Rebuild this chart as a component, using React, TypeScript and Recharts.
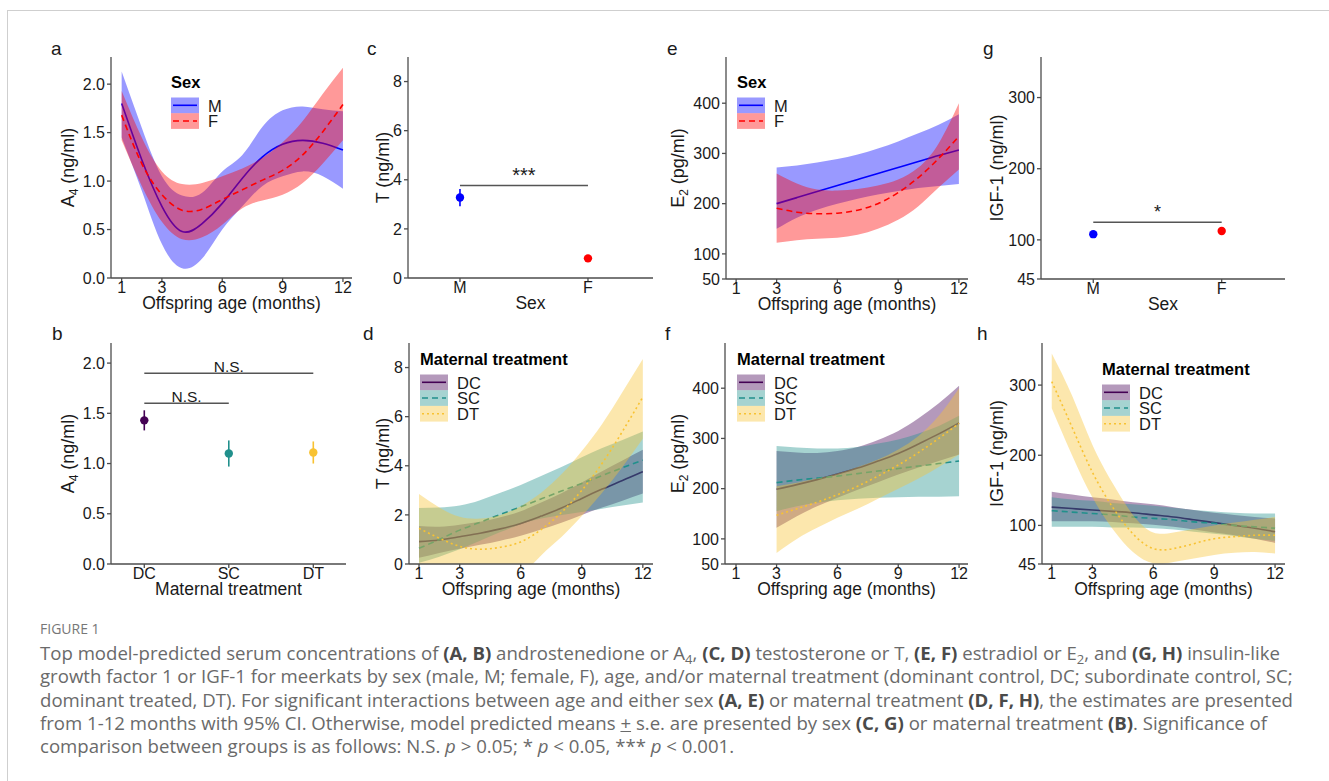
import React from "react";
import {
  ComposedChart,
  Area,
  Line,
  Scatter,
  ErrorBar,
  XAxis,
  YAxis,
  ReferenceLine,
  Legend,
} from "recharts";

const FONT = "Arial, 'Liberation Sans', Helvetica, sans-serif";
const INK = "#1a1a1a";
const AXIS = "#4d4d4d";

const BLUE = "#0000FF";
const RED = "#FF0000";
const DC_COL = "#440154";
const SC_COL = "#21908C";
const DT_COL = "#F8C232";

// x values
const AGE = [1, 2, 3, 4, 5, 6, 7, 8, 9, 10, 11, 12];
const AGE_LATE = [3, 4, 5, 6, 7, 8, 9, 10, 11, 12];
const AGE_TICKS = [1, 3, 6, 9, 12];
const SEX = ["M", "F"];
const TREAT = ["DC", "SC", "DT"];

// a: A4 by sex and age
const A4_M_MEAN = [1.8, 1.22, 0.74, 0.48, 0.56, 0.77, 1.03, 1.25, 1.38, 1.42, 1.39, 1.32];
const A4_M_LO = [1.45, 0.9, 0.35, 0.1, 0.2, 0.5, 0.74, 0.95, 1.05, 1.1, 1.05, 0.92];
const A4_M_HI = [2.13, 1.55, 1.05, 0.85, 0.88, 1.1, 1.27, 1.56, 1.73, 1.77, 1.74, 1.72];
const A4_F_MEAN = [1.68, 1.18, 0.86, 0.7, 0.71, 0.81, 0.91, 1.01, 1.11, 1.27, 1.51, 1.79];
const A4_F_LO = [1.42, 0.95, 0.58, 0.4, 0.42, 0.55, 0.72, 0.8, 0.86, 0.98, 1.18, 1.42];
const A4_F_HI = [1.93, 1.45, 1.1, 0.97, 0.98, 1.05, 1.13, 1.24, 1.4, 1.62, 1.9, 2.17];

// b: A4 by maternal treatment
const A4_TREAT_MEAN = [1.43, 1.1, 1.11];
const A4_TREAT_LO = [1.33, 0.97, 1.0];
const A4_TREAT_HI = [1.53, 1.23, 1.22];

// c: T by sex
const T_SEX_MEAN = [3.28, 0.8];
const T_SEX_LO = [2.92, 0.75];
const T_SEX_HI = [3.62, 0.85];

// d: T by maternal treatment and age
const T_DC_MEAN = [0.91, 0.98, 1.11, 1.25, 1.43, 1.65, 1.95, 2.28, 2.67, 3.05, 3.4, 3.76];
const T_DC_LO = [0.25, 0.45, 0.62, 0.78, 0.95, 1.15, 1.4, 1.68, 2.0, 2.3, 2.58, 2.87];
const T_DC_HI = [1.55, 1.52, 1.6, 1.72, 1.9, 2.15, 2.5, 2.88, 3.32, 3.78, 4.22, 4.65];
const T_SC_MEAN = [0.64, 1.0, 1.38, 1.7, 2.02, 2.33, 2.65, 2.97, 3.28, 3.6, 3.92, 4.23];
const T_SC_LO = [0.05, 0.3, 0.6, 0.95, 1.3, 1.62, 1.85, 2.0, 2.12, 2.25, 2.38, 2.5];
const T_SC_HI = [2.28, 2.3, 2.38, 2.6, 2.9, 3.22, 3.58, 3.95, 4.35, 4.72, 5.05, 5.4];
const T_DT_MEAN = [1.45, 1.05, 0.72, 0.6, 0.68, 0.9, 1.4, 2.1, 3.0, 4.1, 5.4, 6.8];
const T_DT_LO = [-0.3, -0.9, -1.3, -1.4, -1.1, -0.5, 0.35, 1.1, 1.95, 2.9, 3.95, 5.1];
const T_DT_HI = [2.85, 2.3, 1.92, 1.85, 2.0, 2.35, 2.9, 3.65, 4.6, 5.7, 7.0, 8.35];

// e: E2 by sex and age
const E2_M_MEAN = [200, 212, 224, 236, 248, 260, 272, 284, 296, 307];
const E2_M_LO = [150, 172, 188, 200, 210, 218, 225, 231, 235, 239];
const E2_M_HI = [272, 276, 282, 289, 298, 310, 324, 340, 357, 378];
const E2_F_MEAN = [191, 183, 180, 181, 187, 200, 222, 252, 290, 334];
const E2_F_LO = [122, 127, 130, 132, 138, 150, 168, 195, 232, 268];
const E2_F_HI = [260, 240, 228, 226, 229, 236, 248, 272, 320, 400];

// f: E2 by maternal treatment and age
const E2_DC_MEAN = [199, 208, 218, 229, 241, 255, 270, 289, 309, 331];
const E2_DC_LO = [122, 145, 165, 182, 198, 213, 228, 242, 255, 268];
const E2_DC_HI = [275, 272, 271, 275, 283, 297, 315, 340, 370, 405];
const E2_SC_MEAN = [212, 217, 221, 225, 230, 235, 240, 245, 250, 255];
const E2_SC_LO = [155, 165, 172, 177, 180, 182, 183, 184, 184, 185];
const E2_SC_HI = [285, 282, 280, 280, 283, 290, 298, 310, 325, 345];
const E2_DT_MEAN = [147, 160, 173, 188, 205, 225, 247, 272, 300, 330];
const E2_DT_LO = [72, 100, 122, 142, 160, 180, 200, 220, 243, 268];
const E2_DT_HI = [205, 212, 220, 230, 243, 258, 278, 305, 345, 400];

// g: IGF-1 by sex
const IGF_SEX_MEAN = [108, 112.5];
const IGF_SEX_LO = [105, 110];
const IGF_SEX_HI = [111, 115];

// h: IGF-1 by maternal treatment and age
const IGF_DC_MEAN = [126, 124, 122, 120, 118, 115, 112, 108, 104, 100, 96, 91];
const IGF_DC_LO = [106, 106, 106, 105, 103, 101, 98, 94, 90, 86, 81, 75];
const IGF_DC_HI = [148, 144, 140, 137, 133, 130, 126, 122, 118, 115, 112, 110];
const IGF_SC_MEAN = [121, 119, 117, 115, 112, 110, 108, 105, 103, 100, 98, 96];
const IGF_SC_LO = [98, 98, 98, 97, 97, 96, 94, 91, 88, 85, 81, 78];
const IGF_SC_HI = [140, 137, 135, 132, 130, 128, 125, 122, 120, 118, 117, 117];
const IGF_DT_MEAN = [305, 240, 176, 126, 88, 67, 67, 74, 81, 84, 86, 86];
const IGF_DT_LO = [267, 200, 140, 95, 62, 46, 48, 53, 58, 61, 62, 60];
const IGF_DT_HI = [345, 285, 215, 160, 115, 90, 90, 95, 100, 104, 108, 112];

type Series = {
  key: string;
  color: string;
  dash?: string;
  mean: number[];
  lo: number[];
  hi: number[];
};

const sexSeries = (mean: number[][], lo: number[][], hi: number[][]): Series[] => [
  { key: "M", color: BLUE, mean: mean[0], lo: lo[0], hi: hi[0] },
  { key: "F", color: RED, dash: "6 4", mean: mean[1], lo: lo[1], hi: hi[1] },
];
const treatSeries = (mean: number[][], lo: number[][], hi: number[][]): Series[] => [
  { key: "DC", color: DC_COL, mean: mean[0], lo: lo[0], hi: hi[0] },
  { key: "SC", color: SC_COL, dash: "6 4", mean: mean[1], lo: lo[1], hi: hi[1] },
  { key: "DT", color: DT_COL, dash: "2 3", mean: mean[2], lo: lo[2], hi: hi[2] },
];

const SERIES_A = sexSeries([A4_M_MEAN, A4_F_MEAN], [A4_M_LO, A4_F_LO], [A4_M_HI, A4_F_HI]);
const SERIES_E = sexSeries([E2_M_MEAN, E2_F_MEAN], [E2_M_LO, E2_F_LO], [E2_M_HI, E2_F_HI]);
const SERIES_D = treatSeries(
  [T_DC_MEAN, T_SC_MEAN, T_DT_MEAN],
  [T_DC_LO, T_SC_LO, T_DT_LO],
  [T_DC_HI, T_SC_HI, T_DT_HI]
);
const SERIES_F = treatSeries(
  [E2_DC_MEAN, E2_SC_MEAN, E2_DT_MEAN],
  [E2_DC_LO, E2_SC_LO, E2_DT_LO],
  [E2_DC_HI, E2_SC_HI, E2_DT_HI]
);
const SERIES_H = treatSeries(
  [IGF_DC_MEAN, IGF_SC_MEAN, IGF_DT_MEAN],
  [IGF_DC_LO, IGF_SC_LO, IGF_DT_LO],
  [IGF_DC_HI, IGF_SC_HI, IGF_DT_HI]
);

const makeRows = (ages: number[], series: Series[]) =>
  ages.map((age, i) => {
    const row: Record<string, number | number[]> = { age };
    series.forEach((s) => {
      row[s.key] = s.mean[i];
      row[s.key + "Band"] = [s.lo[i], s.hi[i]];
    });
    return row;
  });

const makePoints = (names: string[], colors: string[], mean: number[], lo: number[], hi: number[]) =>
  names.map((name, i) => ({
    name,
    color: colors[i],
    x: i + 1,
    y: mean[i],
    err: [mean[i] - lo[i], hi[i] - mean[i]],
  }));

// layout
type Box = { l: number; t: number; r: number; b: number };
const Y_W = 80;
const X_H = 45;
const M_T = 10;
const M_R = 15;

const BOX_A: Box = { l: 111, t: 57, r: 352, b: 278 };
const BOX_C: Box = { l: 408, t: 57, r: 653, b: 278 };
const BOX_E: Box = { l: 726, t: 57, r: 968, b: 279 };
const BOX_G: Box = { l: 1041, t: 57, r: 1285, b: 279 };
const BOX_B: Box = { l: 111, t: 343, r: 346, b: 564 };
const BOX_D: Box = { l: 409, t: 343, r: 653, b: 564 };
const BOX_F: Box = { l: 725, t: 343, r: 968, b: 564 };
const BOX_H: Box = { l: 1042, t: 343, r: 1285, b: 564 };

const tickStyle = { fill: INK, fontSize: 16, fontFamily: FONT };
const axisLineStyle = { stroke: AXIS, strokeWidth: 1.3 };

const XTitle = (props: any) => {
  const { x, y, width } = props.viewBox;
  return (
    <text x={x + width / 2} y={y + 31} textAnchor="middle" fontSize={17.5} fontFamily={FONT} fill={INK}>
      {props.text}
    </text>
  );
};

const YTitle = (props: any) => {
  const { x, y, width, height } = props.viewBox;
  const cx = x + width - props.dx;
  const cy = y + height / 2;
  return (
    <text
      transform={`rotate(-90 ${cx} ${cy})`}
      x={cx}
      y={cy + 6}
      textAnchor="middle"
      fontSize={18}
      fontFamily={FONT}
      fill={INK}
    >
      {props.main}
      {props.sub ? (
        <tspan fontSize={12} dy={4}>
          {props.sub}
        </tspan>
      ) : null}
      <tspan dy={props.sub ? -4 : 0}>{props.unit}</tspan>
    </text>
  );
};

function xAxis(domain: number[], ticks: number[], title: string, fmt?: (v: number) => string, key = "age") {
  return (
    <XAxis
      type="number"
      dataKey={key}
      domain={domain}
      ticks={ticks}
      tickFormatter={fmt}
      allowDataOverflow
      interval={0}
      height={X_H}
      tickSize={4}
      tickMargin={0}
      axisLine={axisLineStyle}
      tickLine={axisLineStyle}
      tick={tickStyle}
      label={<XTitle text={title} />}
    />
  );
}

function yAxis(domain: number[], ticks: number[], title: React.ReactElement, fmt?: (v: number) => string) {
  return (
    <YAxis
      type="number"
      domain={domain}
      ticks={ticks}
      tickFormatter={fmt}
      allowDataOverflow
      interval={0}
      width={Y_W}
      tickSize={4}
      tickMargin={2}
      axisLine={axisLineStyle}
      tickLine={axisLineStyle}
      tick={tickStyle}
      label={title}
    />
  );
}

function bandsAndLines(series: Series[], alpha: number) {
  return series.flatMap((s, i) => [
    <Area
      key={s.key + "-band"}
      dataKey={s.key + "Band"}
      type="natural"
      stroke="none"
      fill={s.color}
      fillOpacity={alpha}
      activeDot={false}
      isAnimationActive={false}
      zIndex={10 + i * 2}
    />,
    <Line
      key={s.key + "-line"}
      dataKey={s.key}
      type="natural"
      stroke={s.color}
      strokeWidth={1.6}
      strokeDasharray={s.dash}
      dot={false}
      activeDot={false}
      isAnimationActive={false}
      zIndex={11 + i * 2}
    />,
  ]);
}

function points(data: ReturnType<typeof makePoints>) {
  return data.map((p) => (
    <Scatter
      key={p.name}
      data={[p]}
      dataKey="y"
      isAnimationActive={false}
      shape={(sp: any) => <circle cx={sp.cx} cy={sp.cy} r={4.2} fill={p.color} />}
    >
      <ErrorBar dataKey="err" direction="y" width={0} stroke={p.color} strokeWidth={1.6} />
    </Scatter>
  ));
}

function sigLine(x1: number, x2: number, y: number, text: string, fontSize = 16, offset = 5) {
  return (
    <ReferenceLine
      key={`${x1}-${x2}-${y}`}
      segment={[
        { x: x1, y },
        { x: x2, y },
      ]}
      stroke="#555"
      strokeWidth={1.5}
      label={{ value: text, position: "top", fill: INK, fontSize, fontFamily: FONT, offset }}
    />
  );
}

type Key = { name: string; color: string; dash?: string };
const SEX_KEYS: Key[] = SERIES_A.map((s) => ({ name: s.key, color: s.color, dash: s.dash }));
const TREAT_KEYS: Key[] = SERIES_D.map((s) => ({ name: s.key, color: s.color, dash: s.dash }));

const LegendBox = ({ title, items, alpha }: { title: string; items: Key[]; alpha: number }) => (
  <svg width={200} height={26 + items.length * 16} style={{ display: "block", overflow: "visible" }}>
    <text x={0} y={14} fontWeight="bold" fontSize={16.5} fontFamily={FONT} fill="#000">
      {title}
    </text>
    {items.map((it, i) => {
      const y = 23.5 + i * 15.7;
      return (
        <g key={it.name}>
          <rect x={0} y={y} width={28} height={15.7} fill={it.color} fillOpacity={alpha} />
          <line x1={2} x2={26} y1={y + 7.8} y2={y + 7.8} stroke={it.color} strokeWidth={1.6} strokeDasharray={it.dash} />
          <text x={37} y={y + 14} fontSize={16.5} fontFamily={FONT} fill={INK}>
            {it.name}
          </text>
        </g>
      );
    })}
  </svg>
);

function legend(box: Box, x: number, baseline: number, title: string, items: Key[], alpha: number) {
  return (
    <Legend
      verticalAlign="middle"
      align="center"
      layout="horizontal"
      wrapperStyle={{
        left: x - (box.l - Y_W),
        top: baseline - 14 - (box.t - M_T),
        width: 200,
        height: 80,
      }}
      content={() => <LegendBox title={title} items={items} alpha={alpha} />}
    />
  );
}

function Panel({ box, rows, children }: { box: Box; rows?: any[]; children: React.ReactNode }) {
  return (
    <div style={{ position: "absolute", left: box.l - Y_W, top: box.t - M_T }}>
      <ComposedChart
        width={box.r - box.l + Y_W + M_R}
        height={box.b - box.t + M_T + X_H}
        data={rows}
        margin={{ top: M_T, right: M_R, bottom: 0, left: 0 }}
      >
        {children}
      </ComposedChart>
    </div>
  );
}

const letterStyle = (left: number, top: number): React.CSSProperties => ({
  position: "absolute",
  left,
  top,
  fontSize: 19,
  lineHeight: "19px",
  fontFamily: FONT,
  color: INK,
});

const one = (v: number) => v.toFixed(1);
const AGE_TITLE = "Offspring age (months)";
const ALPHA = 0.4;

const B = ({ children }: { children: React.ReactNode }) => (
  <span style={{ fontWeight: 700, color: "#4a4a4a" }}>{children}</span>
);
const Sub = ({ children }: { children: React.ReactNode }) => (
  <span style={{ fontSize: "0.7em", position: "relative", top: "0.3em", lineHeight: 1 }}>{children}</span>
);

export default function App() {
  const rowsA = makeRows(AGE, SERIES_A);
  const rowsE = makeRows(AGE_LATE, SERIES_E);
  const rowsD = makeRows(AGE, SERIES_D);
  const rowsF = makeRows(AGE_LATE, SERIES_F);
  const rowsH = makeRows(AGE, SERIES_H);
  const ptsB = makePoints(TREAT, [DC_COL, SC_COL, DT_COL], A4_TREAT_MEAN, A4_TREAT_LO, A4_TREAT_HI);
  const ptsC = makePoints(SEX, [BLUE, RED], T_SEX_MEAN, T_SEX_LO, T_SEX_HI);
  const ptsG = makePoints(SEX, [BLUE, RED], IGF_SEX_MEAN, IGF_SEX_LO, IGF_SEX_HI);
  const sexFmt = (v: number) => SEX[v - 1] ?? "";
  const treatFmt = (v: number) => TREAT[v - 1] ?? "";

  return (
    <div style={{ position: "absolute", left: 0, top: 0, width: 1329, height: 781, background: "#fff", overflow: "hidden" }}>
      <div
        style={{
          position: "absolute",
          left: 7,
          top: 10,
          right: 0,
          bottom: 0,
          borderTop: "1px solid #cfcfcf",
          borderLeft: "1px solid #cfcfcf",
        }}
      />

      <div style={letterStyle(51, 39)}>a</div>
      <div style={letterStyle(367, 39)}>c</div>
      <div style={letterStyle(667, 39)}>e</div>
      <div style={letterStyle(983, 39)}>g</div>
      <div style={letterStyle(52, 324)}>b</div>
      <div style={letterStyle(363, 324)}>d</div>
      <div style={letterStyle(665, 324)}>f</div>
      <div style={letterStyle(977, 324)}>h</div>

      {/* a */}
      <Panel box={BOX_A} rows={rowsA}>
        {xAxis([0.47, 12.45], AGE_TICKS, AGE_TITLE)}
        {yAxis([0, 2.28], [0, 0.5, 1, 1.5, 2], <YTitle dx={43} main="A" sub="4" unit=" (ng/ml)" />, one)}
        {bandsAndLines(SERIES_A, ALPHA)}
        {legend(BOX_A, 171, 88, "Sex", SEX_KEYS, ALPHA)}
      </Panel>

      {/* c */}
      <Panel box={BOX_C}>
        {xAxis([0.594, 2.508], [1, 2], "Sex", sexFmt, "x")}
        {yAxis([0, 9], [0, 2, 4, 6, 8], <YTitle dx={25} main="T" unit=" (ng/ml)" />)}
        {sigLine(1, 2, 3.77, "***", 20, 3)}
        {points(ptsC)}
      </Panel>

      {/* e */}
      <Panel box={BOX_E} rows={rowsE}>
        {xAxis([0.5, 12.45], AGE_TICKS, AGE_TITLE)}
        {yAxis([50, 492], [50, 100, 200, 300, 400], <YTitle dx={48} main="E" sub="2" unit=" (pg/ml)" />)}
        {bandsAndLines(SERIES_E, ALPHA)}
        {legend(BOX_E, 737, 88, "Sex", SEX_KEYS, ALPHA)}
      </Panel>

      {/* g */}
      <Panel box={BOX_G}>
        {xAxis([0.593, 2.493], [1, 2], "Sex", sexFmt, "x")}
        {yAxis([45, 357], [45, 100, 200, 300], <YTitle dx={44} main="IGF-1" unit=" (ng/ml)" />)}
        {sigLine(1, 2, 124.8, "*", 18, 4)}
        {points(ptsG)}
      </Panel>

      {/* b */}
      <Panel box={BOX_B}>
        {xAxis([0.606, 3.387], [1, 2, 3], "Maternal treatment", treatFmt, "x")}
        {yAxis([0, 2.2], [0, 0.5, 1, 1.5, 2], <YTitle dx={43} main="A" sub="4" unit=" (ng/ml)" />, one)}
        {sigLine(1, 3, 1.9, "N.S.", 15.5, 1)}
        {sigLine(1, 2, 1.6, "N.S.", 15.5, 1)}
        {points(ptsB)}
      </Panel>

      {/* d */}
      <Panel box={BOX_D} rows={rowsD}>
        {xAxis([0.508, 12.5], AGE_TICKS, AGE_TITLE)}
        {yAxis([0, 9], [0, 2, 4, 6, 8], <YTitle dx={26} main="T" unit=" (ng/ml)" />)}
        {bandsAndLines(SERIES_D, ALPHA)}
        {legend(BOX_D, 420, 365, "Maternal treatment", TREAT_KEYS, ALPHA)}
      </Panel>

      {/* f */}
      <Panel box={BOX_F} rows={rowsF}>
        {xAxis([0.457, 12.44], AGE_TICKS, AGE_TITLE)}
        {yAxis([50, 490], [50, 100, 200, 300, 400], <YTitle dx={47} main="E" sub="2" unit=" (pg/ml)" />)}
        {bandsAndLines(SERIES_F, ALPHA)}
        {legend(BOX_F, 737, 365, "Maternal treatment", TREAT_KEYS, ALPHA)}
      </Panel>

      {/* h */}
      <Panel box={BOX_H} rows={rowsH}>
        {xAxis([0.52, 12.49], AGE_TICKS, AGE_TITLE)}
        {yAxis([45, 360], [45, 100, 200, 300], <YTitle dx={45} main="IGF-1" unit=" (ng/ml)" />)}
        {bandsAndLines(SERIES_H, ALPHA)}
        {legend(BOX_H, 1102, 375, "Maternal treatment", TREAT_KEYS, ALPHA)}
      </Panel>

      <div
        style={{
          position: "absolute",
          left: 40,
          top: 622,
          fontFamily: "'Open Sans', sans-serif",
          fontSize: 14,
          lineHeight: "14px",
          color: "#777",
        }}
      >
        FIGURE 1
      </div>
      <div
        style={{
          position: "absolute",
          left: 40,
          top: 641,
          fontFamily: "'Open Sans', sans-serif",
          fontSize: 18.6,
          lineHeight: "23.25px",
          color: "#6a6a6a",
          whiteSpace: "nowrap",
        }}
      >
        Top model-predicted serum concentrations of <B>(A, B)</B> androstenedione or A<Sub>4</Sub>, <B>(C, D)</B>{" "}
        testosterone or T, <B>(E, F)</B> estradiol or E<Sub>2</Sub>, and <B>(G, H)</B> insulin-like
        <br />
        growth factor 1 or IGF-1 for meerkats by sex (male, M; female, F), age, and/or maternal treatment (dominant
        control, DC; subordinate control, SC;
        <br />
        dominant treated, DT). For significant interactions between age and either sex <B>(A, E)</B> or maternal
        treatment <B>(D, F, H)</B>, the estimates are presented
        <br />
        from 1-12 months with 95% CI. Otherwise, model predicted means <u>+</u> s.e. are presented by sex{" "}
        <B>(C, G)</B> or maternal treatment <B>(B)</B>. Significance of
        <br />
        comparison between groups is as follows: N.S. <i>p</i> &gt; 0.05; * <i>p</i> &lt; 0.05, *** <i>p</i> &lt;
        0.001.
      </div>
    </div>
  );
}
